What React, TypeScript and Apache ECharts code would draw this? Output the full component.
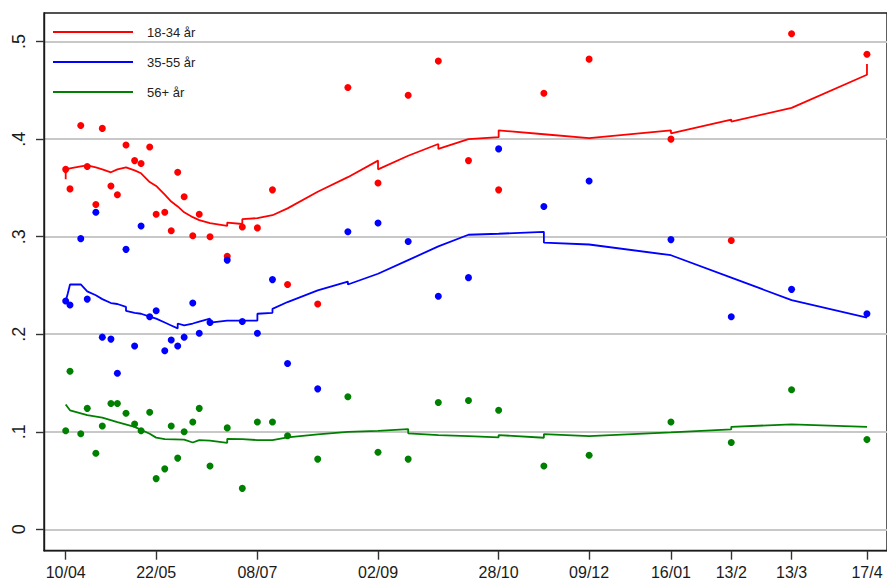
import React, { useEffect, useRef } from "react";
import * as echarts from "echarts";

// Poll dates, as days counted from 10/04
const pollDays = [0, 2, 7, 10, 14, 17, 21, 24, 28, 32, 35, 39, 42, 46, 49, 52, 55, 59, 62, 67, 75, 82, 89, 96, 103, 117, 131, 145, 159, 173, 187, 201, 222, 243, 281, 309, 337, 372];

// Poll shares per age group
const youngPoll = [0.369, 0.349, 0.414, 0.372, 0.333, 0.411, 0.352, 0.343, 0.394, 0.378, 0.375, 0.392, 0.323, 0.325, 0.306, 0.366, 0.341, 0.301, 0.323, 0.300, 0.280, 0.310, 0.309, 0.348, 0.251, 0.231, 0.453, 0.355, 0.445, 0.480, 0.378, 0.348, 0.447, 0.482, 0.400, 0.296, 0.508, 0.487];
const middlePoll = [0.234, 0.230, 0.298, 0.236, 0.325, 0.197, 0.195, 0.160, 0.287, 0.188, 0.311, 0.218, 0.224, 0.183, 0.194, 0.188, 0.197, 0.232, 0.201, 0.212, 0.276, 0.213, 0.201, 0.256, 0.170, 0.144, 0.305, 0.314, 0.295, 0.239, 0.258, 0.390, 0.331, 0.357, 0.297, 0.218, 0.246, 0.221];
const oldPoll = [0.101, 0.162, 0.098, 0.124, 0.078, 0.106, 0.129, 0.129, 0.119, 0.108, 0.101, 0.120, 0.052, 0.062, 0.106, 0.073, 0.100, 0.110, 0.124, 0.065, 0.104, 0.042, 0.110, 0.110, 0.096, 0.072, 0.136, 0.079, 0.072, 0.130, 0.132, 0.122, 0.065, 0.076, 0.110, 0.089, 0.143, 0.092];

// Smoothed trends (repeated days mark the small jumps of the trend)
const youngTrendDays = [0, 0, 2, 7, 10, 14, 17, 21, 24, 28, 32, 35, 39, 42, 46, 49, 52, 55, 59, 62, 67, 75, 75, 82, 82, 89, 96, 103, 117, 131, 145, 145, 159, 173, 173, 187, 201, 201, 222, 243, 281, 281, 309, 309, 337, 372, 372];
const youngTrendVals = [0.359, 0.369, 0.370, 0.372, 0.373, 0.371, 0.369, 0.366, 0.369, 0.371, 0.368, 0.365, 0.356, 0.352, 0.343, 0.336, 0.331, 0.325, 0.320, 0.317, 0.314, 0.311, 0.3145, 0.313, 0.318, 0.319, 0.322, 0.329, 0.346, 0.361, 0.378, 0.369, 0.383, 0.395, 0.390, 0.400, 0.402, 0.409, 0.405, 0.401, 0.409, 0.406, 0.420, 0.418, 0.432, 0.466, 0.477];

const middleTrendDays = [0, 1, 2, 7, 10, 14, 17, 21, 24, 28, 28, 32, 35, 39, 42, 46, 49, 52, 52, 55, 59, 62, 67, 67, 75, 82, 89, 89, 96, 96, 103, 117, 131, 131, 145, 159, 173, 187, 201, 222, 222, 243, 281, 309, 337, 372];
const middleTrendVals = [0.234, 0.242, 0.251, 0.251, 0.244, 0.240, 0.236, 0.232, 0.231, 0.228, 0.224, 0.222, 0.221, 0.218, 0.216, 0.212, 0.209, 0.206, 0.211, 0.209, 0.211, 0.213, 0.216, 0.212, 0.214, 0.214, 0.214, 0.221, 0.222, 0.226, 0.233, 0.245, 0.254, 0.251, 0.262, 0.276, 0.290, 0.302, 0.303, 0.305, 0.294, 0.292, 0.281, 0.258, 0.235, 0.217];

const oldTrendDays = [0, 2, 10, 17, 24, 32, 39, 42, 46, 55, 59, 62, 67, 75, 75, 82, 89, 96, 103, 117, 131, 145, 159, 159, 173, 187, 201, 201, 222, 222, 243, 281, 309, 309, 337, 372];
const oldTrendVals = [0.128, 0.122, 0.117, 0.1145, 0.110, 0.105, 0.098, 0.094, 0.0925, 0.092, 0.089, 0.0915, 0.091, 0.0887, 0.0928, 0.0925, 0.0915, 0.0915, 0.0943, 0.0973, 0.100, 0.101, 0.1028, 0.0984, 0.0965, 0.0955, 0.0943, 0.0966, 0.0939, 0.0976, 0.0956, 0.0994, 0.1025, 0.1051, 0.1076, 0.1051];

// Axis ticks
const xTickDays = [0, 42, 89, 145, 201, 243, 281, 309, 337, 372];
const xTickLabels = ["10/04", "22/05", "08/07", "02/09", "28/10", "09/12", "16/01", "13/2", "13/3", "17/4"];
const yTickValues = [0, 0.1, 0.2, 0.3, 0.4, 0.5];
const yTickLabels = ["0", ".1", ".2", ".3", ".4", ".5"];

const groupNames = ["18-34 år", "35-55 år", "56+ år"];
const groupColors = ["#ff0000", "#0000ff", "#008000"];

const pair = (xs: number[], ys: number[]) => xs.map((x, i) => [x, ys[i]]);

export default function App() {
  const ref = useRef<HTMLDivElement>(null);

  useEffect(() => {
    if (!ref.current) return;
    const chart = echarts.init(ref.current, undefined, { renderer: "svg" });
    const polls = [youngPoll, middlePoll, oldPoll];
    const trends = [
      pair(youngTrendDays, youngTrendVals),
      pair(middleTrendDays, middleTrendVals),
      pair(oldTrendDays, oldTrendVals),
    ];
    const font = "'Liberation Sans', Arial, sans-serif";

    const scatterSeries = polls.map((vals, i) => ({
      type: "scatter",
      name: groupNames[i],
      data: pair(pollDays, vals),
      symbol: "circle",
      symbolSize: 7,
      itemStyle: { color: groupColors[i], opacity: 1 },
      z: 2,
    }));
    const lineSeries = trends.map((d, i) => ({
      type: "line",
      name: groupNames[i],
      data: d,
      showSymbol: false,
      symbol: "none",
      color: groupColors[i],
      lineStyle: { color: groupColors[i], width: 1.8 },
      z: 3,
    }));

    chart.setOption({
      animation: false,
      backgroundColor: "#ffffff",
      textStyle: { fontFamily: font },
      grid: {
        left: 44,
        right: -3,
        top: 13,
        bottom: 31.3,
        show: true,
        borderColor: "#1a1a1a",
        borderWidth: 1.4,
        backgroundColor: "transparent",
      },
      legend: {
        show: true,
        data: groupNames,
        orient: "vertical",
        left: 48,
        top: 20,
        icon: "rect",
        itemWidth: 80,
        itemHeight: 2,
        itemGap: 16,
        textStyle: {
          fontSize: 13,
          color: "#222222",
          fontFamily: font,
          lineHeight: 14,
          padding: [0, 0, 0, 9],
        },
      },
      xAxis: {
        type: "value",
        min: -10.07,
        max: 381.3,
        axisLine: { show: true, onZero: false, lineStyle: { color: "#1a1a1a", width: 1.4 } },
        axisTick: {
          show: true,
          length: 9,
          customValues: xTickDays,
          lineStyle: { color: "#333333", width: 1.4 },
        },
        axisLabel: {
          customValues: xTickDays,
          fontSize: 16,
          color: "#1a1a1a",
          margin: 14,
          fontFamily: font,
          formatter: (v: number) => {
            const idx = xTickDays.findIndex((d) => Math.abs(d - v) < 1e-6);
            return idx >= 0 ? xTickLabels[idx] : "";
          },
        },
        splitLine: { show: false },
      },
      yAxis: {
        type: "value",
        min: -0.0219,
        max: 0.5293,
        axisLine: { show: true, onZero: false, lineStyle: { color: "#1a1a1a", width: 1.4 } },
        axisTick: {
          show: true,
          length: 8,
          customValues: yTickValues,
          lineStyle: { color: "#333333", width: 1.4 },
        },
        axisLabel: {
          customValues: yTickValues,
          rotate: 90,
          fontSize: 18,
          color: "#1a1a1a",
          margin: 16,
          fontFamily: font,
          formatter: (v: number) => {
            const idx = yTickValues.findIndex((d) => Math.abs(d - v) < 1e-6);
            return idx >= 0 ? yTickLabels[idx] : "";
          },
        },
        splitLine: { show: true, lineStyle: { color: "#c8c8c8", width: 2 } },
      },
      series: [...scatterSeries, ...lineSeries],
    });

    return () => chart.dispose();
  }, []);

  return (
    <div
      ref={ref}
      style={{ position: "fixed", left: 0, top: 0, width: 887, height: 582, background: "#ffffff" }}
    />
  );
}
